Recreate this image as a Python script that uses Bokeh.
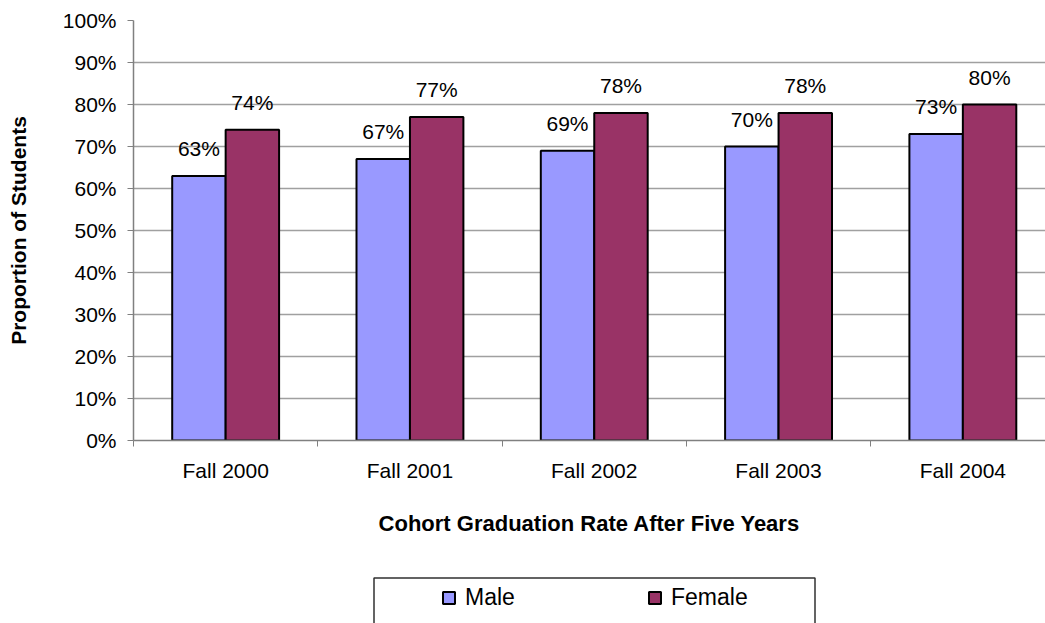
from bokeh.plotting import figure
from bokeh.layouts import column
from bokeh.models import (Range1d, FixedTicker, Legend, LegendItem, BoxAnnotation,
                          ColumnDataSource, LabelSet, PrintfTickFormatter)
from bokeh.core.properties import value
from bokeh.embed import file_html
from bokeh.resources import INLINE

# Five-year graduation rate by entering cohort, split by gender (percent)
cohorts = ["Fall 2000", "Fall 2001", "Fall 2002", "Fall 2003", "Fall 2004"]
male = [63, 67, 69, 70, 73]
female = [74, 77, 78, 78, 80]
y_ticks = [0, 10, 20, 30, 40, 50, 60, 70, 80, 90, 100]

MALE_COLOR = "#9999FF"
FEMALE_COLOR = "#993366"
FONT = "Liberation Sans"

# geometry (pixels)
W = 1045
CHART_H, LEGEND_H = 570, 53
FRAME_LEFT, FRAME_TOP, FRAME_BOTTOM = 133, 20, 440
CAT_PX = 184.3  # width of one cohort slot

n = len(cohorts)
centers = [i + 0.5 for i in range(n)]
bar_w = 0.29
off = bar_w / 2

src = ColumnDataSource(dict(
    xm=[c - off for c in centers], xf=[c + off for c in centers],
    male=male, female=female,
    male_lbl=[f"{v}%" for v in male], female_lbl=[f"{v}%" for v in female],
))

x_range = Range1d(0, (W - FRAME_LEFT) / CAT_PX)

p = figure(width=W, height=CHART_H, output_backend="svg", toolbar_location=None,
           x_range=x_range, y_range=Range1d(0, 100),
           min_border_left=FRAME_LEFT, min_border_right=0,
           min_border_top=FRAME_TOP, min_border_bottom=CHART_H - FRAME_BOTTOM)
p.outline_line_color = None

bar_style = dict(width=bar_w, source=src, line_color="black", line_width=2)
rm = p.vbar(x="xm", top="male", fill_color=MALE_COLOR, **bar_style)
rf = p.vbar(x="xf", top="female", fill_color=FEMALE_COLOR, **bar_style)

for xcol, ycol, tcol in (("xm", "male", "male_lbl"), ("xf", "female", "female_lbl")):
    p.add_layout(LabelSet(x=xcol, y=ycol, text=tcol, source=src, y_offset=20,
                          text_align="center", text_baseline="alphabetic",
                          text_font=value(FONT), text_font_size="21px",
                          text_color="black"))

# value axis
p.yaxis.ticker = FixedTicker(ticks=y_ticks)
p.yaxis.formatter = PrintfTickFormatter(format="%d%%")
p.yaxis.axis_line_color = "#808080"
p.yaxis.axis_line_width = 1.5
p.yaxis.major_tick_line_color = "#808080"
p.yaxis.major_tick_out = 6
p.yaxis.major_tick_in = 0
p.yaxis.minor_tick_line_color = None
p.yaxis.major_label_standoff = 11
p.yaxis.major_label_text_font = FONT
p.yaxis.major_label_text_font_size = "21px"
p.yaxis.major_label_text_color = "black"
p.yaxis.axis_label = "Proportion of Students"
p.yaxis.axis_label_text_font = FONT
p.yaxis.axis_label_text_font_style = "bold"
p.yaxis.axis_label_text_font_size = "21px"
p.yaxis.axis_label_text_color = "black"
p.yaxis.axis_label_standoff = 30

# category axis: labels at slot centres, tick marks at slot boundaries
p.xaxis.ticker = FixedTicker(ticks=centers, minor_ticks=list(range(n + 1)))
p.xaxis.major_label_overrides = {c: name for c, name in zip(centers, cohorts)}
p.xaxis.major_tick_line_color = None
p.xaxis.major_tick_out = 0
p.xaxis.major_tick_in = 0
p.xaxis.minor_tick_line_color = "#808080"
p.xaxis.minor_tick_out = 6
p.xaxis.minor_tick_in = 0
p.xaxis.axis_line_color = "#808080"
p.xaxis.axis_line_width = 1.5
p.xaxis.major_label_standoff = 12
p.xaxis.major_label_text_font = FONT
p.xaxis.major_label_text_font_size = "21px"
p.xaxis.major_label_text_color = "black"
p.xaxis.axis_label = "Cohort Graduation Rate After Five Years"
p.xaxis.axis_label_text_font = FONT
p.xaxis.axis_label_text_font_style = "bold"
p.xaxis.axis_label_text_font_size = "22px"
p.xaxis.axis_label_text_color = "black"
p.xaxis.axis_label_standoff = 26

p.xgrid.grid_line_color = None
p.ygrid.grid_line_color = "#A0A0A0"
p.ygrid.grid_line_width = 1.5

# legend strip beneath the chart; its frame lines up with the chart frame
lg = figure(width=W, height=LEGEND_H, output_backend="svg", toolbar_location=None,
            x_range=x_range, y_range=Range1d(0, 1),
            x_axis_location=None, y_axis_location=None,
            min_border_left=FRAME_LEFT, min_border_right=0,
            min_border_top=0, min_border_bottom=0, outline_line_color=None)
lg.grid.grid_line_color = None
sw_m = lg.vbar(x="xm", top="male", fill_color=MALE_COLOR, visible=False, **bar_style)
sw_f = lg.vbar(x="xf", top="female", fill_color=FEMALE_COLOR, visible=False, **bar_style)
lg.add_layout(BoxAnnotation(left=373.5, right=814.5, top=7.5, bottom=LEGEND_H + 20,
                            left_units="canvas", right_units="canvas",
                            top_units="canvas", bottom_units="canvas",
                            fill_color=None, fill_alpha=0,
                            line_color="#303030", line_alpha=1, line_width=1.5,
                            level="overlay"))
legend = Legend(items=[LegendItem(label="Male", renderers=[sw_m]),
                       LegendItem(label="Female", renderers=[sw_f])],
                orientation="horizontal", location=(441 - FRAME_LEFT, 12),
                padding=0, spacing=132, label_width=50, label_standoff=9,
                glyph_width=15, glyph_height=15,
                label_text_font=FONT, label_text_font_size="23px",
                label_text_color="black", inactive_fill_alpha=0,
                border_line_color=None, background_fill_alpha=0)
lg.add_layout(legend)

open("out.html", "w").write(file_html(column(p, lg, spacing=0), INLINE))
